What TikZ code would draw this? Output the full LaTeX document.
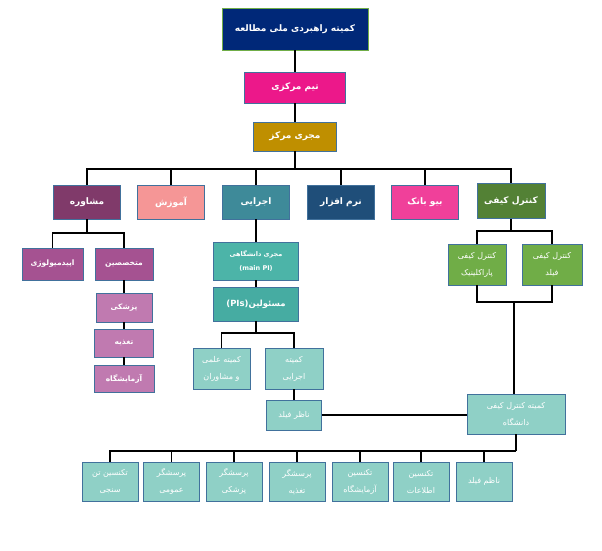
\documentclass[tikz,border=0pt]{standalone}
\usepackage{fontspec}
\setmainfont{DejaVu Sans}
\newfontfamily\farsifont[Script=Arabic]{DejaVu Sans}
\TeXXeTstate=1
\newcommand{\fatx}[1]{{\farsifont\beginR #1\endR}}
\definecolor{cNavy}{RGB}{0,40,120}
\definecolor{cGreenBorder}{RGB}{112,173,71}
\definecolor{cPink}{RGB}{236,24,138}
\definecolor{cGold}{RGB}{191,143,0}
\definecolor{cPlum}{RGB}{128,58,106}
\definecolor{cSalmon}{RGB}{245,150,150}
\definecolor{cTeal}{RGB}{62,138,153}
\definecolor{cDarkBlue}{RGB}{31,78,121}
\definecolor{cHotPink}{RGB}{240,64,154}
\definecolor{cDGreen}{RGB}{83,129,53}
\definecolor{cLGreen}{RGB}{112,173,71}
\definecolor{cMagenta}{RGB}{165,82,145}
\definecolor{cOrchid}{RGB}{192,122,176}
\definecolor{cSea}{RGB}{76,180,168}
\definecolor{cSeaD}{RGB}{70,172,162}
\definecolor{cMint}{RGB}{143,208,198}
\definecolor{cBorder}{RGB}{65,113,156}
\begin{document}
\begin{tikzpicture}[x=1pt,y=-1pt,
  box/.style={draw=cBorder, line width=0.8pt, text=white, inner sep=1pt, align=center},
  bigtxt/.style={font=\fontsize{9}{11}\selectfont\bfseries},
  midtxt/.style={font=\fontsize{7.5}{10}\selectfont\bfseries},
  smalltxt/.style={font=\fontsize{8}{17}\selectfont},
  link/.style={line width=1.1pt, black}]
\useasboundingbox (0,0) rectangle (602,551);
% top chain
\node[box, bigtxt, fill=cNavy, draw=cGreenBorder, minimum width=146pt, minimum height=42pt] (top) at (295,29) {\fatx{کمیته راهبردی ملی مطالعه}};
\node[box, bigtxt, fill=cPink, minimum width=101pt, minimum height=31pt] (tim) at (295,87.5) {\fatx{تیم مرکزی}};
\node[box, bigtxt, fill=cGold, minimum width=83pt, minimum height=29pt] (mojri) at (295,136.5) {\fatx{مجری مرکز}};
% row 2
\node[box, bigtxt, fill=cPlum, minimum width=67pt, minimum height=34pt] (moshavere) at (87,202) {\fatx{مشاوره}};
\node[box, bigtxt, fill=cSalmon, minimum width=67pt, minimum height=34pt] (amoozesh) at (171,202) {\fatx{آموزش}};
\node[box, bigtxt, fill=cTeal, minimum width=67pt, minimum height=34pt] (ejraei) at (256,202) {\fatx{اجرایی}};
\node[box, bigtxt, fill=cDarkBlue, minimum width=67pt, minimum height=34pt] (narm) at (341,202) {\fatx{نرم افزار}};
\node[box, bigtxt, fill=cHotPink, minimum width=67pt, minimum height=34pt] (bio) at (425,202) {\fatx{بیو بانک}};
\node[box, bigtxt, fill=cDGreen, minimum width=68pt, minimum height=35pt] (kontrol) at (511,201) {\fatx{کنترل کیفی}};
% moshavere branch
\node[box, midtxt, fill=cMagenta, minimum width=61pt, minimum height=32pt] (epid) at (52.5,264) {\fatx{اپیدمیولوژی}};
\node[box, midtxt, fill=cMagenta, minimum width=58pt, minimum height=32pt] (motakh) at (124,264) {\fatx{متخصصین}};
\node[box, midtxt, fill=cOrchid, minimum width=56pt, minimum height=29pt] (pezeshki) at (124,307.5) {\fatx{پزشکی}};
\node[box, midtxt, fill=cOrchid, minimum width=59pt, minimum height=28pt] (taghzie) at (124,343) {\fatx{تغذیه}};
\node[box, midtxt, fill=cOrchid, minimum width=60pt, minimum height=27pt] (azmayesh) at (124,378.5) {\fatx{آزمایشگاه}};
% ejraei branch
\node[box, font=\fontsize{6.5}{14}\selectfont\bfseries, fill=cSea, minimum width=85pt, minimum height=38pt] (mainpi) at (256,261) {\fatx{مجری دانشگاهی}\\(main PI)};
\node[box, font=\fontsize{8.5}{10}\selectfont\bfseries, fill=cSeaD, minimum width=85pt, minimum height=34pt] (pis) at (256,304) {(PIs)\fatx{مسئولین}};
\node[box, smalltxt, fill=cMint, minimum width=57pt, minimum height=41pt] (elmi) at (221.5,368.5) {\fatx{کمیته علمی}\\\fatx{و مشاوران}};
\node[box, smalltxt, fill=cMint, minimum width=58pt, minimum height=41pt] (kejraei) at (294,368.5) {\fatx{کمیته}\\\fatx{اجرایی}};
\node[box, smalltxt, fill=cMint, minimum width=55pt, minimum height=30pt] (nazer) at (294,415) {\fatx{ناظر فیلد}};
% kontrol branch
\node[box, smalltxt, fill=cLGreen, minimum width=58pt, minimum height=41pt] (kkpara) at (477,264.5) {\fatx{کنترل کیفی}\\\fatx{پاراکلینیک}};
\node[box, smalltxt, fill=cLGreen, minimum width=60pt, minimum height=41pt] (kkfield) at (552,264.5) {\fatx{کنترل کیفی}\\\fatx{فیلد}};
\node[box, smalltxt, fill=cMint, minimum width=98pt, minimum height=40pt] (kkdan) at (516,414) {\fatx{کمیته کنترل کیفی}\\\fatx{دانشگاه}};
% bottom row
\node[box, smalltxt, fill=cMint, minimum width=56pt, minimum height=39pt] (b1) at (110,481.5) {\fatx{تکنسین تن}\\\fatx{سنجی}};
\node[box, smalltxt, fill=cMint, minimum width=56pt, minimum height=39pt] (b2) at (171.5,481.5) {\fatx{پرسشگر}\\\fatx{عمومی}};
\node[box, smalltxt, fill=cMint, minimum width=56pt, minimum height=39pt] (b3) at (234,481.5) {\fatx{پرسشگر}\\\fatx{پزشکی}};
\node[box, smalltxt, fill=cMint, minimum width=56pt, minimum height=39pt] (b4) at (297,481.5) {\fatx{پرسشگر}\\\fatx{تغذیه}};
\node[box, smalltxt, fill=cMint, minimum width=56pt, minimum height=39pt] (b5) at (360,481.5) {\fatx{تکنسین}\\\fatx{آزمایشگاه}};
\node[box, smalltxt, fill=cMint, minimum width=56pt, minimum height=39pt] (b6) at (421,481.5) {\fatx{تکنسین}\\\fatx{اطلاعات}};
\node[box, smalltxt, fill=cMint, minimum width=56pt, minimum height=39pt] (b7) at (484,481.5) {\fatx{ناظم فیلد}};
% bus coordinates
\coordinate (busA) at (295,169);
\coordinate (busM) at (87,233);
\coordinate (busP) at (256,333);
\coordinate (busK) at (511,231);
\coordinate (busK2) at (514,302);
\coordinate (busB) at (516,451);
% connectors
\draw[link] (top) -- (tim);
\draw[link] (tim) -- (mojri);
\draw[link] (mojri.south) -- (busA);
\draw[link] (moshavere.north) -- (moshavere.north |- busA) -- (kontrol.north |- busA) -- (kontrol.north);
\foreach \n in {amoozesh,ejraei,narm,bio} \draw[link] (\n.north) -- (\n.north |- busA);
\draw[link] (moshavere.south) -- (busM);
\draw[link] (epid.north) -- (epid.north |- busM) -- (motakh.north |- busM) -- (motakh.north);
\draw[link] (motakh) -- (pezeshki);
\draw[link] (pezeshki) -- (taghzie);
\draw[link] (taghzie) -- (azmayesh);
\draw[link] (ejraei) -- (mainpi);
\draw[link] (mainpi) -- (pis);
\draw[link] (pis.south) -- (busP);
\draw[link] (elmi.north) -- (elmi.north |- busP) -- (kejraei.north |- busP) -- (kejraei.north);
\draw[link] (kejraei) -- (nazer);
\draw[link] (kontrol.south) -- (busK);
\draw[link] (kkpara.north) -- (kkpara.north |- busK) -- (kkfield.north |- busK) -- (kkfield.north);
\draw[link] (kkpara.south) -- (kkpara.south |- busK2) -- (kkfield.south |- busK2) -- (kkfield.south);
\draw[link] (busK2) -- (busK2 |- kkdan.north);
\draw[link] (nazer.east) -- (nazer.east -| kkdan.west);
\draw[link] (busB |- kkdan.south) -- (busB);
\draw[link] (b1.north) -- (b1.north |- busB) -- (busB);
\foreach \n in {b2,b3,b4,b5,b6,b7} \draw[link] (\n.north) -- (\n.north |- busB);
\end{tikzpicture}
\end{document}
